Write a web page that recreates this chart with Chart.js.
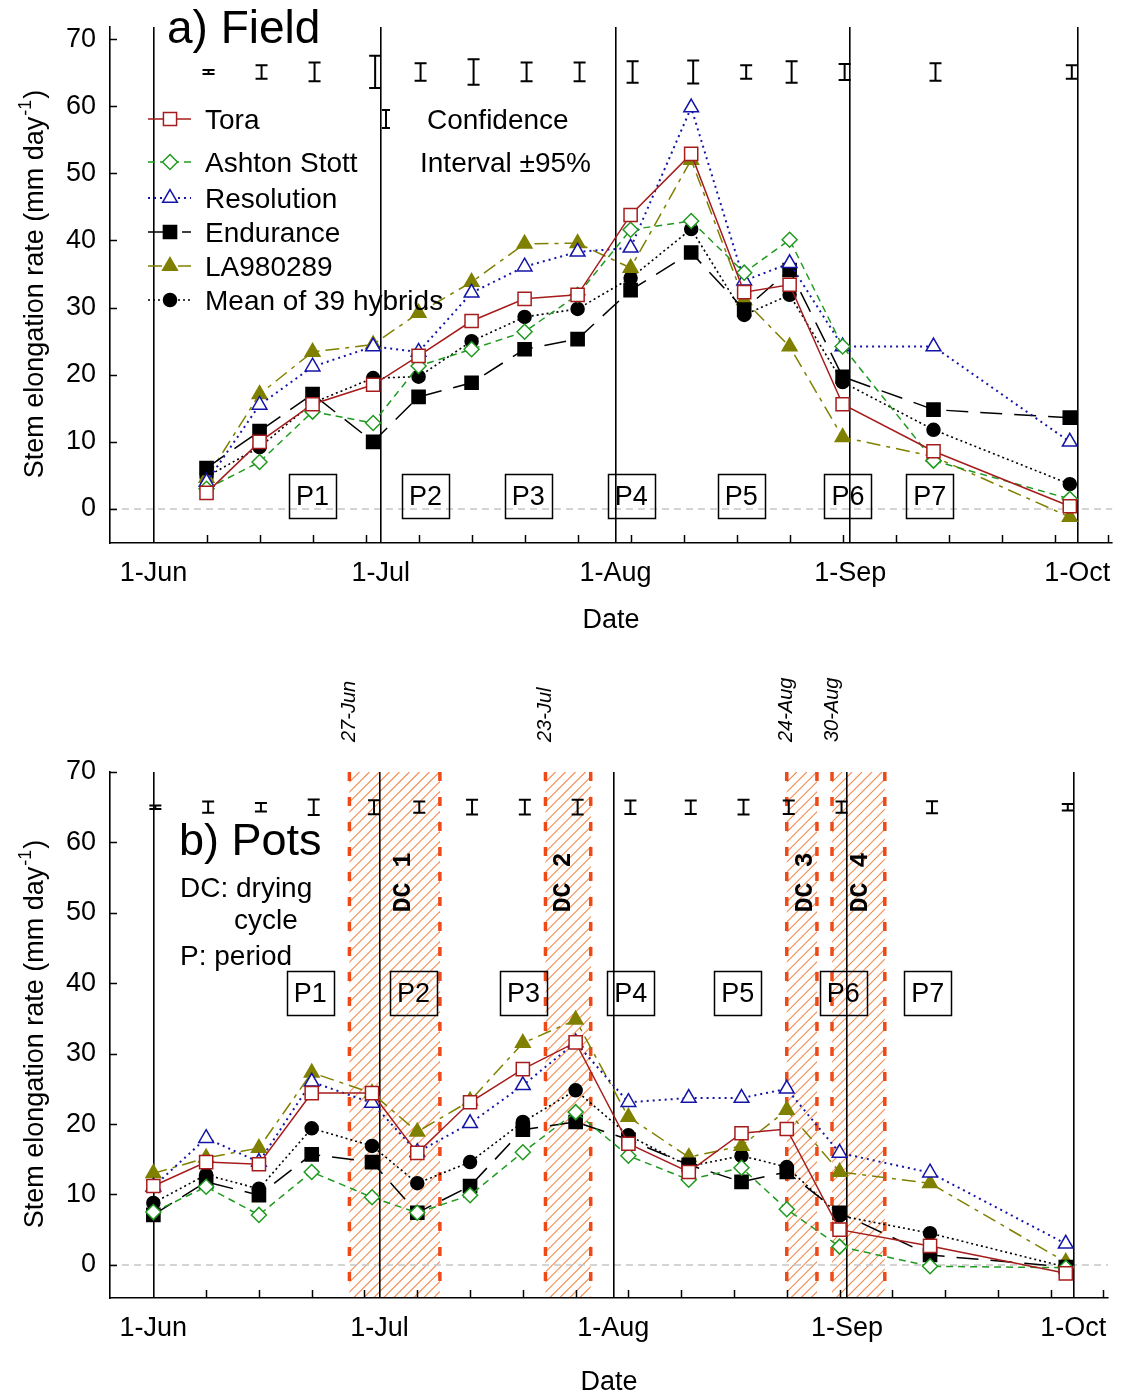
<!DOCTYPE html>
<html><head><meta charset="utf-8">
<script src="https://cdn.jsdelivr.net/npm/chart.js@4.4.0/dist/chart.umd.min.js"></script>
<style>
html,body{margin:0;padding:0;background:#fff;width:1123px;height:1396px;overflow:hidden;position:relative}
#c1{position:absolute;left:0;top:0}
#c2{position:absolute;left:0;top:650px}
</style></head><body>
<canvas id="c1" width="1123" height="650"></canvas>
<canvas id="c2" width="1123" height="760"></canvas>
<script>
const FONT = '"Liberation Sans", Arial, sans-serif';

// ---- axis data ----
const monthDays = [0, 30, 61, 92, 122];
const monthLabels = ['1-Jun', '1-Jul', '1-Aug', '1-Sep', '1-Oct'];
const weekDays = [7, 14, 21, 28, 35, 42, 49, 56, 63, 70, 77, 84, 91, 98, 105, 112, 119, 126];
const yTicks = [0, 10, 20, 30, 40, 50, 60, 70];
const seriesNames = ['Tora', 'Ashton Stott', 'Resolution', 'Endurance', 'LA980289', 'Mean of 39 hybrids'];
const periodLabels = ['P1', 'P2', 'P3', 'P4', 'P5', 'P6', 'P7'];

// ---- a) Field ----
const fieldDays = [7, 14, 21, 29, 35, 42, 49, 56, 63, 71, 78, 84, 91, 103, 121];
const fieldTora = [2.4, 10.0, 15.6, 18.5, 22.8, 28.0, 31.3, 31.9, 43.8, 52.9, 32.3, 33.4, 15.6, 8.6, 0.4];
const fieldAshton = [3.0, 7.0, 14.5, 12.8, 21.3, 23.8, 26.4, 31.9, 41.6, 42.9, 35.2, 40.1, 24.2, 7.2, 1.5];
const fieldResolution = [4.0, 15.5, 21.2, 24.2, 23.4, 32.2, 36.1, 38.3, 38.9, 59.8, 34.0, 36.6, 24.2, 24.2, 10.0];
const fieldEndurance = [6.1, 11.6, 17.1, 10.0, 16.7, 18.8, 23.8, 25.3, 32.6, 38.2, 29.7, 35.6, 19.7, 14.8, 13.6];
const fieldLA = [4.6, 17.1, 23.4, 24.5, 29.2, 33.8, 39.5, 39.6, 35.9, 52.0, 31.1, 24.2, 10.7, 7.8, -1.2];
const fieldMean = [4.8, 9.2, 15.8, 19.5, 19.7, 25.0, 28.6, 29.8, 34.4, 41.7, 28.9, 31.9, 18.9, 11.8, 3.7];
const fieldCIHalf = [0.3, 1.0, 1.4, 2.4, 1.3, 1.9, 1.4, 1.4, 1.6, 1.7, 1.0, 1.6, 1.2, 1.3, 1.0];
const fieldCICenter = 65.1;
const fieldPeriodDays = [21.0, 35.9, 49.5, 63.1, 77.6, 91.7, 102.5];
const fieldPeriodValue = 1.9;

// ---- b) Pots ----
const potDays = [0, 7, 14, 21, 29, 35, 42, 49, 56, 63, 71, 78, 84, 91, 103, 121];
const potTora = [11.2, 14.6, 14.3, 24.4, 24.4, 15.9, 23.1, 27.8, 31.6, 17.2, 13.2, 18.7, 19.3, 5.0, 2.7, -1.2];
const potAshton = [7.5, 11.1, 7.1, 13.2, 9.6, 7.4, 9.9, 16.0, 21.7, 15.5, 12.1, 13.8, 7.9, 2.6, -0.2, -0.4];
const potResolution = [11.1, 18.0, 14.6, 26.0, 23.0, 16.0, 20.1, 25.5, 31.6, 23.1, 23.7, 23.7, 25.0, 15.9, 13.1, 3.0];
const potEndurance = [7.1, 11.8, 9.9, 15.7, 14.6, 7.4, 11.2, 19.2, 20.3, 17.8, 14.2, 11.8, 13.2, 7.4, 1.4, -0.3];
const potLA = [13.0, 15.2, 16.6, 27.3, 24.4, 18.9, 23.3, 31.5, 34.8, 21.0, 15.3, 16.9, 22.0, 13.2, 11.6, 0.4];
const potMean = [8.8, 12.8, 10.8, 19.4, 16.9, 11.6, 14.6, 20.3, 24.8, 18.4, 14.0, 15.5, 13.9, 7.0, 4.5, -0.3];
const potCIHalf = [0.25, 0.8, 0.6, 1.1, 1.0, 0.8, 1.05, 1.05, 1.05, 0.95, 0.95, 1.05, 0.95, 0.8, 0.85, 0.45];
const potCICenter = 65.0;
const potPeriodDays = [20.8, 34.5, 49.1, 63.3, 77.5, 91.5, 102.7];
const potPeriodValue = 38.6;
const dcStart = [26, 52, 84, 90];
const dcEnd = [38, 58, 88, 97];
const dcLabels = ['DC 1', 'DC 2', 'DC 3', 'DC 4'];
const dcLabelDays = [33.2, 54.4, 86.5, 93.8];
const dcLabelValue = 54.3;
const dcDateLabels = ['27-Jun', '23-Jul', '24-Aug', '30-Aug'];

// ---- styles ----
const seriesStyle = [
  {color: '#a61c1c', dash: [], width: 1.5, point: 'rect', r: 9.3, fill: '#ffffff'},
  {color: '#1f9a1f', dash: [7, 5], width: 1.5, point: 'rectRot', r: 7.5, fill: '#ffffff'},
  {color: '#1414a8', dash: [2, 4], width: 2, point: 'triangle', r: 8.5, fill: '#ffffff'},
  {color: '#000000', dash: [22, 12], width: 1.5, point: 'rect', r: 9.3, fill: '#000000'},
  {color: '#808000', dash: [14, 6, 4, 6], width: 1.5, point: 'triangle', r: 8.5, fill: '#808000'},
  {color: '#000000', dash: [2, 3], width: 1.6, point: 'circle', r: 6.5, fill: '#000000'}
];

const H = (typeof Chart !== 'undefined' && Chart.helpers) ? Chart.helpers : null;
function drawMarker(ctx, s, x, y) {
  ctx.save();
  ctx.setLineDash([]);
  ctx.fillStyle = s.fill; ctx.strokeStyle = s.color; ctx.lineWidth = 1.5;
  if (H && H.drawPoint) {
    H.drawPoint(ctx, {pointStyle: s.point, radius: s.r, borderWidth: 1.5, rotation: 0}, x, y);
  } else {
    ctx.beginPath(); ctx.arc(x, y, s.r, 0, Math.PI * 2); ctx.fill(); ctx.stroke();
  }
  ctx.restore();
}

function drawYTitle(ctx, cx, cy) {
  ctx.save();
  ctx.translate(cx, cy); ctx.rotate(-Math.PI / 2);
  const f1 = '27px ' + FONT, f2 = '18px ' + FONT;
  const t1 = 'Stem elongation rate (mm day', t2 = '-1', t3 = ')';
  ctx.font = f1; const w1 = ctx.measureText(t1).width, w3 = ctx.measureText(t3).width;
  ctx.font = f2; const w2 = ctx.measureText(t2).width;
  const x0 = -(w1 + w2 + w3) / 2;
  ctx.fillStyle = '#000'; ctx.textBaseline = 'alphabetic'; ctx.textAlign = 'left';
  ctx.font = f1; ctx.fillText(t1, x0, 10);
  ctx.font = f2; ctx.fillText(t2, x0 + w1 + 1, -2);
  ctx.font = f1; ctx.fillText(t3, x0 + w1 + w2 + 2, 10);
  ctx.restore();
}

function ciGlyph(ctx, x, yTop, yBot) {
  ctx.beginPath();
  ctx.moveTo(x, yTop); ctx.lineTo(x, yBot);
  ctx.moveTo(x - 6, yTop); ctx.lineTo(x + 6, yTop);
  ctx.moveTo(x - 6, yBot); ctx.lineTo(x + 6, yBot);
  ctx.stroke();
}

function makePlugin(cfg) {
  return {
    id: 'deco' + cfg.id,
    beforeDraw(chart) {
      const {ctx, chartArea: ca, scales: {x, y}} = chart;
      ctx.save();
      if (cfg.dc) {
        for (let i = 0; i < dcStart.length; i++) {
          const x1 = x.getPixelForValue(dcStart[i]), x2 = x.getPixelForValue(dcEnd[i]);
          ctx.save();
          ctx.beginPath(); ctx.rect(x1, ca.top, x2 - x1, ca.bottom - ca.top); ctx.clip();
          ctx.strokeStyle = '#f38a50'; ctx.lineWidth = 1.1;
          const hgt = ca.bottom - ca.top;
          for (let k = -hgt; k < (x2 - x1) + 10; k += 10) {
            ctx.beginPath();
            ctx.moveTo(x1 + k, ca.bottom); ctx.lineTo(x1 + k + hgt, ca.top);
            ctx.stroke();
          }
          ctx.restore();
          ctx.strokeStyle = '#ee4a18'; ctx.lineWidth = 3.5; ctx.setLineDash([9, 16]);
          for (const xp of [x1, x2]) {
            ctx.beginPath(); ctx.moveTo(xp, ca.top); ctx.lineTo(xp, ca.bottom); ctx.stroke();
          }
          ctx.setLineDash([]);
        }
      }
      const y0 = y.getPixelForValue(0);
      ctx.strokeStyle = '#c6c6c6'; ctx.lineWidth = 1.5; ctx.setLineDash([7, 5]);
      ctx.beginPath(); ctx.moveTo(ca.left, y0); ctx.lineTo(ca.right, y0); ctx.stroke();
      ctx.setLineDash([]);
      ctx.restore();
    },
    afterDraw(chart) {
      const {ctx, chartArea: ca, scales: {x, y}} = chart;
      ctx.save();
      ctx.strokeStyle = '#000'; ctx.lineWidth = 1.5; ctx.setLineDash([]);
      for (const d of weekDays) {
        const px = Math.round(x.getPixelForValue(d)) + 0.5;
        ctx.beginPath(); ctx.moveTo(px, ca.bottom); ctx.lineTo(px, ca.bottom - 8); ctx.stroke();
      }
      for (const v of yTicks) {
        const py = Math.round(y.getPixelForValue(v)) + 0.5;
        ctx.beginPath(); ctx.moveTo(ca.left, py); ctx.lineTo(ca.left + 7, py); ctx.stroke();
      }
      ctx.lineWidth = 2;
      cfg.days.forEach((d, i) => {
        const px = x.getPixelForValue(d) + 2;
        const yt = y.getPixelForValue(cfg.ciCenter + cfg.ciHalf[i]);
        const yb = y.getPixelForValue(cfg.ciCenter - cfg.ciHalf[i]);
        ciGlyph(ctx, px, yt, yb);
      });
      ctx.lineWidth = 1.5;
      ctx.font = '27px ' + FONT; ctx.fillStyle = '#000';
      ctx.textAlign = 'center'; ctx.textBaseline = 'middle';
      cfg.periodDays.forEach((d, i) => {
        const px = x.getPixelForValue(d), py = y.getPixelForValue(cfg.periodValue);
        ctx.strokeRect(Math.round(px - 23.5) + 0.5, Math.round(py - 22) + 0.5, 47, 44);
        ctx.fillText(periodLabels[i], px, py + 1);
      });
      if (cfg.dc) {
        dcLabels.forEach((t, i) => {
          const px = x.getPixelForValue(dcLabelDays[i]), py = y.getPixelForValue(dcLabelValue);
          ctx.save(); ctx.translate(px, py); ctx.rotate(-Math.PI / 2);
          ctx.font = 'bold 25px "Liberation Mono", "Courier New", monospace';
          ctx.textAlign = 'center'; ctx.textBaseline = 'middle';
          ctx.fillText(t, 0, 0);
          ctx.restore();
        });
        dcDateLabels.forEach((t, i) => {
          const px = x.getPixelForValue(dcStart[i]);
          ctx.save(); ctx.translate(px, ca.top - 30); ctx.rotate(-Math.PI / 2);
          ctx.font = 'italic 20px ' + FONT;
          ctx.textAlign = 'left'; ctx.textBaseline = 'middle';
          ctx.fillText(t, 0, 0);
          ctx.restore();
        });
      }
      ctx.textAlign = 'left'; ctx.textBaseline = 'alphabetic';
      for (const tb of cfg.texts) {
        ctx.font = tb.font; ctx.fillText(tb.text, tb.x, tb.y);
      }
      if (cfg.legend) {
        const rows = [119, 162, 198, 232, 266, 300];
        seriesNames.forEach((n, i) => {
          const s = seriesStyle[i];
          ctx.save();
          ctx.strokeStyle = s.color; ctx.lineWidth = s.width; ctx.setLineDash(s.dash);
          ctx.beginPath(); ctx.moveTo(148, rows[i]); ctx.lineTo(191, rows[i]); ctx.stroke();
          ctx.restore();
          drawMarker(ctx, s, 170, rows[i]);
          ctx.font = '28px ' + FONT; ctx.fillStyle = '#000';
          ctx.fillText(n, 205, rows[i] + 10);
        });
        ctx.lineWidth = 2; ctx.strokeStyle = '#000';
        ctx.beginPath();
        ctx.moveTo(386, 110); ctx.lineTo(386, 128);
        ctx.moveTo(382, 110); ctx.lineTo(390, 110);
        ctx.moveTo(382, 128); ctx.lineTo(390, 128);
        ctx.stroke();
      }
      drawYTitle(ctx, 33, (ca.top + ca.bottom) / 2);
      ctx.restore();
    }
  };
}

function makeChart(id, cfg) {
  const datasets = cfg.series.map((vals, i) => {
    const s = seriesStyle[i];
    return {
      label: seriesNames[i],
      data: cfg.days.map((d, k) => ({x: d, y: vals[k]})),
      borderColor: s.color, borderWidth: s.width, borderDash: s.dash,
      pointStyle: s.point, pointRadius: s.r, pointBackgroundColor: s.fill,
      pointBorderColor: s.color, pointBorderWidth: 1.5, tension: 0, fill: false
    };
  });
  const zeroPad = sc => { sc.paddingLeft = 0; sc.paddingRight = 0; sc.paddingTop = 0; sc.paddingBottom = 0; };
  return new Chart(document.getElementById(id), {
    type: 'line',
    data: {datasets},
    plugins: [makePlugin(cfg)],
    options: {
      responsive: false, animation: false, devicePixelRatio: 1,
      layout: {padding: {top: cfg.padTop, right: cfg.padRight, left: 0, bottom: 0}},
      plugins: {legend: {display: false}, tooltip: {enabled: false}},
      scales: {
        x: {
          type: 'linear', min: -5.75, max: 126.6,
          afterBuildTicks: sc => { sc.ticks = monthDays.map(v => ({value: v})); },
          afterFit: sc => { sc.height = cfg.xHeight; zeroPad(sc); },
          ticks: {
            autoSkip: false, maxRotation: 0, minRotation: 0, padding: 14, color: '#000',
            font: {family: FONT, size: 27},
            callback: v => { const i = monthDays.indexOf(v); return i >= 0 ? monthLabels[i] : ''; }
          },
          grid: {color: '#000', lineWidth: 1.6, drawTicks: false, drawOnChartArea: true},
          border: {display: true, color: '#000', width: 1.6},
          title: {display: true, text: 'Date', color: '#000', font: {family: FONT, size: 27},
                  padding: {top: 0, bottom: cfg.titlePad}}
        },
        y: {
          type: 'linear', min: cfg.yMin, max: cfg.yMax,
          afterBuildTicks: sc => { sc.ticks = yTicks.map(v => ({value: v})); },
          afterFit: sc => { sc.width = 110; zeroPad(sc); },
          ticks: {padding: 14, color: '#000', font: {family: FONT, size: 27}},
          grid: {drawOnChartArea: false, drawTicks: false, color: 'rgba(0,0,0,0)'},
          border: {display: true, color: '#000', width: 1.6}
        }
      }
    }
  });
}

makeChart('c1', {
  id: 'a', days: fieldDays,
  series: [fieldTora, fieldAshton, fieldResolution, fieldEndurance, fieldLA, fieldMean],
  ciHalf: fieldCIHalf, ciCenter: fieldCICenter,
  periodDays: fieldPeriodDays, periodValue: fieldPeriodValue,
  padTop: 27, padRight: 8, xHeight: 107, titlePad: 13,
  yMin: -5.07, yMax: 71.8, legend: true, dc: false,
  texts: [
    {text: 'a) Field', x: 167, y: 43, font: '46px ' + FONT},
    {text: 'Confidence', x: 427, y: 129, font: '28px ' + FONT},
    {text: 'Interval \u00B195%', x: 420, y: 172, font: '28px ' + FONT}
  ]
});

makeChart('c2', {
  id: 'b', days: potDays,
  series: [potTora, potAshton, potResolution, potEndurance, potLA, potMean],
  ciHalf: potCIHalf, ciCenter: potCICenter,
  periodDays: potPeriodDays, periodValue: potPeriodValue,
  padTop: 122, padRight: 15, xHeight: 112, titlePad: 11,
  yMin: -4.7, yMax: 70, legend: false, dc: true,
  texts: [
    {text: 'b) Pots', x: 179, y: 205, font: '45px ' + FONT},
    {text: 'DC: drying', x: 180, y: 247, font: '28px ' + FONT},
    {text: 'cycle', x: 234, y: 279, font: '28px ' + FONT},
    {text: 'P: period', x: 180, y: 315, font: '28px ' + FONT}
  ]
});
</script>
</body></html>
